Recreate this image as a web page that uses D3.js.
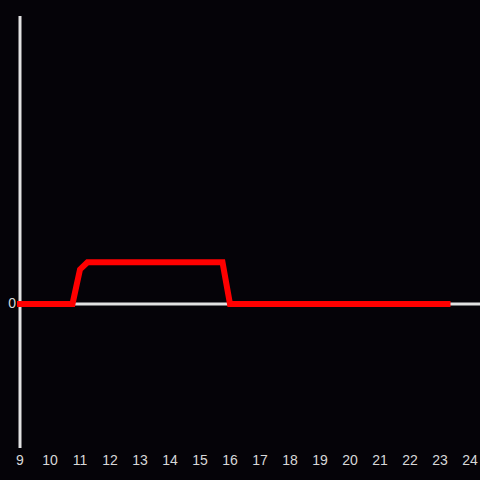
<!DOCTYPE html>
<html>
<head>
<meta charset="utf-8">
<script src="https://cdn.jsdelivr.net/npm/d3@7"></script>
<style>
  html, body { margin: 0; padding: 0; background: #050308; }
  svg { display: block; }
  text { font-family: "Liberation Sans", Arial, sans-serif; }
</style>
</head>
<body>
<svg width="480" height="480"></svg>
<script>
// часы (ось x) и значения линии
const hours = [9, 10.75, 11, 11.25, 15.75, 16, 23.25];
const values = [0, 0, 0.24, 0.29, 0.29, 0, 0];
const xTicks = [9, 10, 11, 12, 13, 14, 15, 16, 17, 18, 19, 20, 21, 22, 23, 24];
const yTicks = [0];

const svg = d3.select("svg");
const width = +svg.attr("width");
const height = +svg.attr("height");

const x = d3.scaleLinear().domain([9, 24]).range([20, 470]);
const y = d3.scaleLinear().domain([-1, 2]).range([448, 16]);

const axisColor = "#e2e2e2";

// вертикальная ось
svg.append("line")
    .attr("x1", x(9)).attr("x2", x(9))
    .attr("y1", y(-1)).attr("y2", y(2))
    .attr("stroke", axisColor)
    .attr("stroke-width", 3);

// горизонтальная линия нуля
svg.append("line")
    .attr("x1", x(9)).attr("x2", width)
    .attr("y1", y(0)).attr("y2", y(0))
    .attr("stroke", axisColor)
    .attr("stroke-width", 3);

// подписи по x
svg.append("g")
    .selectAll("text")
    .data(xTicks)
    .join("text")
    .attr("x", d => x(d))
    .attr("y", 461)
    .attr("text-anchor", "middle")
    .attr("dominant-baseline", "middle")
    .attr("fill", "#d8d8d8")
    .attr("font-size", 14)
    .text(d => d);

// подписи по y
svg.append("g")
    .selectAll("text")
    .data(yTicks)
    .join("text")
    .attr("x", 16)
    .attr("y", d => y(d))
    .attr("text-anchor", "end")
    .attr("dominant-baseline", "middle")
    .attr("fill", "#d8d8d8")
    .attr("font-size", 14)
    .text(d => d);

const data = hours.map((h, i) => ({ h, v: values[i] }));
const line = d3.line()
    .x(d => x(d.h))
    .y(d => y(d.v));

svg.append("path")
    .attr("d", line(data))
    .attr("fill", "none")
    .attr("stroke", "#ff0000")
    .attr("stroke-width", 6)
    .attr("stroke-linecap", "square")
    .attr("stroke-linejoin", "miter");
</script>
</body>
</html>
